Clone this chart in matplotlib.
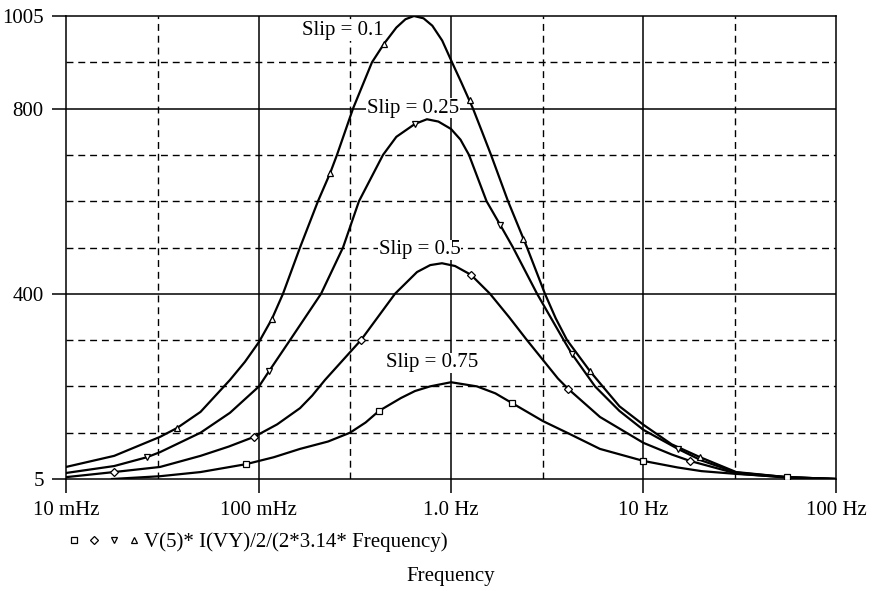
import numpy as np
import matplotlib.pyplot as plt
from matplotlib.legend_handler import HandlerTuple

plt.rcParams['font.family'] = ['Liberation Serif', 'DejaVu Serif']

# curves (frequency in Hz, value)
f_01 = [0.01, 0.0178, 0.0308, 0.0377, 0.05, 0.0711, 0.085, 0.1006, 0.1175, 0.134,
        0.1643, 0.2037, 0.2352, 0.2557, 0.3097, 0.3886, 0.4487, 0.52, 0.58, 0.6421,
        0.72, 0.8, 0.9, 1.012, 1.13, 1.301, 1.45, 1.614, 1.978, 2.483, 3.077,
        3.5, 4.006, 5.27, 5.94, 7.5, 10.0, 14.0, 19.7, 30.3, 55.6, 100.0]
v_01 = [31, 55, 96, 115, 150, 219, 258, 301, 351, 405,
        505, 605, 665, 705, 805, 905, 945, 980, 998, 1005,
        1000, 984, 952, 905, 862, 805, 755, 705, 605, 505, 405,
        352, 305, 238, 212, 162, 122, 80, 52, 20, 9, 5]

f_025 = [0.01, 0.0178, 0.0263, 0.0308, 0.05, 0.0711, 0.1006, 0.1135, 0.1458, 0.2113,
         0.2748, 0.3326, 0.4434, 0.52, 0.6501, 0.75, 0.86, 1.0, 1.12, 1.24,
         1.53, 1.80, 2.10, 2.80, 3.85, 4.25, 5.6, 7.5, 10.0, 15.1, 20.0, 30.3,
         55.6, 100.0]
v_025 = [18, 33, 52, 63, 105, 148, 205, 238, 305, 405,
         505, 605, 705, 744, 772, 782, 777, 761, 738, 705,
         605, 554, 505, 405, 305, 275, 205, 152, 111, 70, 45, 19,
         9, 5]

f_05 = [0.01, 0.01775, 0.0308, 0.05, 0.07, 0.0948, 0.125, 0.1643, 0.19, 0.2216,
        0.3406, 0.5117, 0.666, 0.78, 0.8977, 1.05, 1.27, 1.595, 2.0, 2.48, 3.594,
        4.053, 5.94, 10.0, 14.0, 17.45, 30.3, 55.6, 100.0]
v_05 = [9, 20, 31, 55, 75, 96, 123, 158, 185, 219,
        305, 405, 452, 467, 471, 465, 446, 405, 355, 305, 222,
        200, 139, 83, 58, 44, 17, 8, 5]

f_075 = [0.01733, 0.0308, 0.05, 0.0861, 0.12, 0.1643, 0.23, 0.2988, 0.36, 0.4226,
         0.55, 0.65, 0.7779, 1.0, 1.365, 1.7, 2.075, 3.006, 4.006, 5.94, 10.0,
         15.0, 20.0, 30.3, 55.6, 100.0]
v_075 = [5, 11, 20, 37, 52, 70, 86, 105, 127, 152,
         180, 195, 205, 214, 205, 190, 169, 130, 105, 70, 44,
         30, 22, 16, 9, 5]

# marker points
mf_01 = [0.0377, 0.1175, 0.2352, 0.4487, 1.256, 2.366, 5.27, 19.7]
mv_01 = [115, 351, 665, 945, 824, 523, 238, 52]
mf_025 = [0.0263, 0.1135, 0.6501, 1.80, 4.25, 15.1]
mv_025 = [52, 238, 772, 554, 275, 70]
mf_05 = [0.01775, 0.0948, 0.3406, 1.27, 4.053, 17.45]
mv_05 = [20, 96, 305, 446, 200, 44]
mf_075 = [0.0861, 0.4226, 2.075, 10.0, 55.6]
mv_075 = [37, 152, 169, 44, 9]

labels = ['Slip = 0.1', 'Slip = 0.25', 'Slip = 0.5', 'Slip = 0.75']
label_f = [0.2748, 0.635, 0.690, 0.797]
label_v = [973, 806, 500, 256]

xticks = [0.01, 0.1, 1.0, 10.0, 100.0]
xticklabels = ['10 mHz', '100 mHz', '1.0 Hz', '10 Hz', '100 Hz']
yticks = [5, 405, 805, 1005]
yticklabels = ['5', '400', '800', '1005']

fig = plt.figure(figsize=(8.78, 5.91), dpi=100)
ax = fig.add_axes([66/878, 1-479/591, (836-66)/878, (479-16)/591])
ax.set_xscale('log')
ax.set_xlim(0.01, 100)
ax.set_ylim(5, 1005)

# grid: solid at labelled values, dashed in between
dash = (0, (5, 3.5))
for d in [0.03, 0.3, 3.0, 30.0]:
    ax.axvline(d, color='black', lw=1.0, ls=dash, zorder=1)
for d in [0.1, 1.0, 10.0]:
    ax.axvline(d, color='black', lw=1.1, zorder=1)
for v in range(105, 1005, 100):
    if v in (405, 805):
        ax.axhline(v, color='black', lw=1.1, zorder=1)
    else:
        ax.axhline(v, color='black', lw=1.0, ls=dash, zorder=1)

lw = 1.6
ax.plot(f_01, v_01, color='black', lw=lw, zorder=3)
ax.plot(f_025, v_025, color='black', lw=lw, zorder=3)
ax.plot(f_05, v_05, color='black', lw=lw, zorder=3)
ax.plot(f_075, v_075, color='black', lw=lw, zorder=3)

mk = dict(color='black', ls='none', mfc='white', mew=0.9, ms=5, zorder=4)
h4, = ax.plot(mf_01, mv_01, marker='^', **mk)
h3, = ax.plot(mf_025, mv_025, marker='v', **mk)
h2, = ax.plot(mf_05, mv_05, marker='D', **dict(mk, ms=4.5))
h1, = ax.plot(mf_075, mv_075, marker='s', **dict(mk, ms=4.5))

for t, fx, vy in zip(labels, label_f, label_v):
    ax.text(fx, vy, t, fontsize=15, ha='center', va='center', zorder=2,
            bbox=dict(facecolor='white', edgecolor='none', pad=0.5))

for s in ax.spines.values():
    s.set_linewidth(1.1)
ax.set_xticks(xticks)
ax.set_xticklabels(xticklabels)
ax.set_yticks(yticks)
ax.set_yticklabels(yticklabels)
ax.minorticks_off()
ax.tick_params(direction='out', length=10, width=1.1, labelsize=15, pad=6)

fig.legend(handles=[(h1, h2, h3, h4)], labels=['V(5)* I(VY)/2/(2*3.14* Frequency)'],
           handler_map={tuple: HandlerTuple(ndivide=None, pad=0.3)},
           loc='center left', bbox_to_anchor=(67/878, 1-542/591), frameon=False,
           fontsize=15, handlelength=3.55, handletextpad=0.15, borderaxespad=0,
           borderpad=0)

fig.text(451/878, 1-577/591, 'Frequency', fontsize=15, ha='center', va='center')

fig.savefig('out.png', dpi=100)
